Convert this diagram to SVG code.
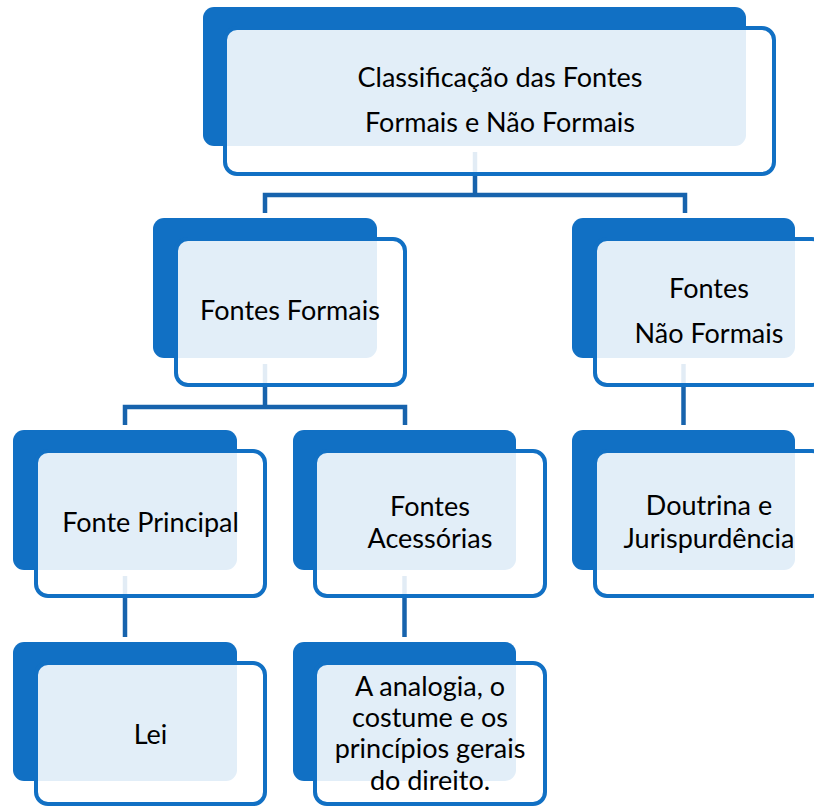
<svg xmlns="http://www.w3.org/2000/svg" width="814" height="807" viewBox="0 0 814 807">
<style>
.back{fill:#1170C4;}
.front{fill:#ffffff;fill-opacity:0.88;stroke:#1170C4;stroke-width:4;}
.conn{fill:none;stroke:#1763AD;stroke-width:4.5;}
text{font-family:Lato,"Liberation Sans",sans-serif;font-size:27px;fill:#000;text-anchor:middle;}
</style>
<rect width="814" height="807" fill="#ffffff"/>
<g id="connectors">
<path class="conn" d="M475,152 V195 M265,213 V195 H685 V213"/>
<path class="conn" d="M265,364 V407 M125,425 V407 H405 V425"/>
<path class="conn" d="M683.5,364 V425"/>
<path class="conn" d="M125,576 V637"/>
<path class="conn" d="M404.5,576 V637"/>
</g>
<g id="n-root">
<rect class="back" x="203" y="7" width="543" height="139" rx="11"/>
<rect class="front" x="225" y="28" width="549" height="146" rx="12"/>
<text x="500" y="87">Classificação das Fontes</text>
<text x="500" y="132">Formais e Não Formais</text>
</g>
<g id="n-formais">
<rect class="back" x="153" y="218" width="224" height="140" rx="11"/>
<rect class="front" x="176" y="239" width="229" height="146" rx="12"/>
<text x="290" y="320">Fontes Formais</text>
</g>
<g id="n-naoformais">
<rect class="back" x="572" y="218" width="223" height="140" rx="11"/>
<rect class="front" x="595" y="239" width="229" height="146" rx="12"/>
<text x="709" y="298">Fontes</text>
<text x="709" y="343">Não Formais</text>
</g>
<g id="n-principal">
<rect class="back" x="13" y="430" width="224" height="140" rx="11"/>
<rect class="front" x="36" y="451" width="229" height="145" rx="12"/>
<text x="150.5" y="532">Fonte Principal</text>
</g>
<g id="n-acessorias">
<rect class="back" x="293" y="430" width="223" height="140" rx="11"/>
<rect class="front" x="315" y="451" width="230" height="145" rx="12"/>
<text x="430" y="516">Fontes</text>
<text x="430" y="548">Acessórias</text>
</g>
<g id="n-doutrina">
<rect class="back" x="572" y="430" width="223" height="140" rx="11"/>
<rect class="front" x="595" y="451" width="229" height="145" rx="12"/>
<text x="709" y="515">Doutrina e</text>
<text x="709" y="548">Jurispurdência</text>
</g>
<g id="n-lei">
<rect class="back" x="13" y="642" width="224" height="139" rx="11"/>
<rect class="front" x="36" y="663" width="229" height="141" rx="12"/>
<text x="150.5" y="744">Lei</text>
</g>
<g id="n-analogia">
<rect class="back" x="293" y="642" width="223" height="139" rx="11"/>
<rect class="front" x="315" y="663" width="230" height="141" rx="12"/>
<text x="430" y="696">A analogia, o</text>
<text x="430" y="727">costume e os</text>
<text x="430" y="758">princípios gerais</text>
<text x="430" y="790">do direito.</text>
</g>
</svg>
